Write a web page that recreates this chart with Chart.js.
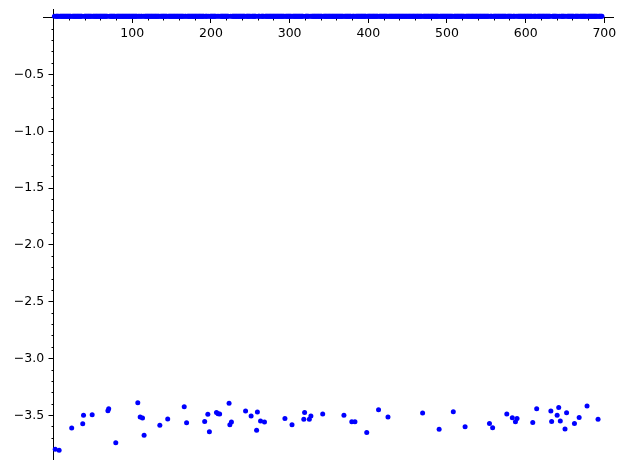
<!DOCTYPE html>
<html>
<head>
<meta charset="utf-8">
<script src="https://cdn.jsdelivr.net/npm/chart.js@4/dist/chart.umd.min.js"></script>
<style>
  body { margin: 0; background: #fff; }
</style>
</head>
<body>
<canvas id="grafico" width="627" height="469"></canvas>
<script>
// n runs 1..697; almost every value sits just above 0, except these outliers
const firstN = 1;
const lastN = 697;
const nearZero = 0.012;

const outlierN = [2, 7, 23, 37, 38, 49, 69, 70, 79, 107, 110, 113, 115, 135, 145, 166, 169,
  192, 196, 198, 207, 209, 211, 223, 224, 226, 244, 251, 259, 258, 263, 268, 294, 303, 318,
  319, 325, 327, 342, 369, 379, 383, 398, 413, 425, 469, 490, 508, 523, 554, 558, 576, 583,
  587, 589, 609, 614, 632, 633, 640, 642, 644, 650, 652, 662, 668, 678, 692];
const outlierVal = [-3.798, -3.807, -3.611, -3.573, -3.499, -3.494, -3.459, -3.441, -3.740,
  -3.388, -3.514, -3.523, -3.675, -3.587, -3.532, -3.423, -3.564, -3.552, -3.490, -3.644,
  -3.473, -3.485, -3.488, -3.393, -3.582, -3.558, -3.461, -3.505, -3.470, -3.631, -3.549,
  -3.558, -3.526, -3.582, -3.534, -3.473, -3.534, -3.505, -3.488, -3.497, -3.556, -3.556,
  -3.649, -3.450, -3.514, -3.479, -3.622, -3.467, -3.599, -3.570, -3.608, -3.488, -3.520,
  -3.556, -3.526, -3.561, -3.441, -3.461, -3.552, -3.499, -3.429, -3.549, -3.620, -3.476,
  -3.570, -3.517, -3.417, -3.534];

const xTicks = [100, 200, 300, 400, 500, 600, 700];
const yTicks = [0, -0.5, -1.0, -1.5, -2.0, -2.5, -3.0, -3.5];

const points = [];
for (let n = firstN; n <= lastN; n++) {
  if (!outlierN.includes(n)) points.push({ x: n, y: nearZero });
}
outlierN.forEach((n, i) => points.push({ x: n, y: outlierVal[i] }));

const X_MIN = -13.5, X_MAX = 711;
const Y_MIN = -3.883, Y_MAX = 0.0765;
const fuente = { family: 'DejaVu Sans', size: 12.5 };
const onStep = (v, step) => Math.abs(v / step - Math.round(v / step)) < 1e-6;
const yLabel = v => (v === 0 ? '' : '\u2212' + Math.abs(v).toFixed(1));

// Chart.js puts labels of an axis placed at a value right on the axis line,
// so the y labels are written here, left of the ticks
const yLabels = {
  id: 'yLabels',
  afterDraw(chart) {
    const { ctx, scales: { x, y } } = chart;
    const left = x.getPixelForValue(0) - 4.5 - 5;
    ctx.save();
    ctx.font = '12.5px "DejaVu Sans"';
    ctx.fillStyle = '#000';
    ctx.textAlign = 'right';
    ctx.textBaseline = 'middle';
    yTicks.forEach(v => ctx.fillText(yLabel(v), left, y.getPixelForValue(v)));
    ctx.restore();
  }
};

const ctx = document.getElementById('grafico').getContext('2d');
new Chart(ctx, {
  type: 'scatter',
  data: {
    datasets: [{
      data: points,
      backgroundColor: '#0000ff',
      pointRadius: 2.5,
      pointBorderWidth: 0,
      pointHoverRadius: 2.5,
      clip: false
    }]
  },
  options: {
    responsive: false,
    animation: false,
    events: [],
    layout: { autoPadding: false, padding: { left: 43, right: 14, top: 9, bottom: 10 } },
    plugins: { legend: { display: false }, tooltip: { enabled: false } },
    scales: {
      x: {
        type: 'linear', min: X_MIN, max: X_MAX, position: { y: 0 }, z: 1,
        afterFit: s => { s.height = 0; },
        afterBuildTicks: s => { s.ticks = xTicks.map(v => ({ value: v })); },
        border: { color: '#000', width: 1 },
        grid: { drawOnChartArea: false, tickLength: 5, tickColor: '#000', tickWidth: 1 },
        ticks: { color: '#000', font: fuente, padding: 4, maxRotation: 0, autoSkip: false }
      },
      xMinor: {
        type: 'linear', min: X_MIN, max: X_MAX, position: { y: 0 }, z: 1,
        afterFit: s => { s.height = 0; },
        afterBuildTicks: s => { s.ticks = s.ticks.filter(t => t.value > 0 && onStep(t.value, 20)); },
        border: { display: false },
        grid: { drawOnChartArea: false, tickLength: 2.5, tickColor: '#000', tickWidth: 1 },
        ticks: { stepSize: 20, display: false, autoSkip: false }
      },
      y: {
        type: 'linear', min: Y_MIN, max: Y_MAX, position: { x: 0 }, z: 1,
        afterFit: s => { s.width = 0; },
        afterBuildTicks: s => { s.ticks = yTicks.map(v => ({ value: v })); },
        border: { color: '#000', width: 1 },
        grid: { drawOnChartArea: false, tickLength: 4.5, tickColor: '#000', tickWidth: 1 },
        ticks: { display: false, autoSkip: false }
      },
      yMinor: {
        type: 'linear', min: Y_MIN, max: Y_MAX, position: { x: 0 }, z: 1,
        afterFit: s => { s.width = 0; },
        afterBuildTicks: s => { s.ticks = s.ticks.filter(t => t.value <= 0 && onStep(t.value, 0.1)); },
        border: { display: false },
        grid: { drawOnChartArea: false, tickLength: 2.5, tickColor: '#000', tickWidth: 1 },
        ticks: { stepSize: 0.1, display: false, autoSkip: false }
      }
    }
  },
  plugins: [yLabels]
});
</script>
</body>
</html>
